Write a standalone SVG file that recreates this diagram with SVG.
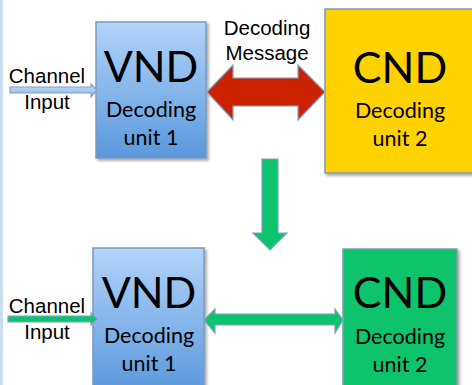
<svg xmlns="http://www.w3.org/2000/svg" width="472" height="385" viewBox="0 0 472 385">
<defs>
<linearGradient id="blue" x1="0" y1="0" x2="0" y2="1">
<stop offset="0" stop-color="#b2d4fa"/>
<stop offset="1" stop-color="#5a98dc"/>
</linearGradient>
<linearGradient id="blueArrow" x1="0" y1="0" x2="0" y2="1">
<stop offset="0" stop-color="#c6dcf6"/>
<stop offset="1" stop-color="#8fb6e6"/>
</linearGradient>
<filter id="sh" x="-10%" y="-10%" width="130%" height="130%">
<feDropShadow dx="2" dy="2" stdDeviation="1.5" flood-color="#000" flood-opacity="0.35"/>
</filter>
</defs>
<style>
.box{stroke:#7f99b8;stroke-width:1.5;filter:url(#sh)}
.big{font-family:Lato,"Liberation Sans",sans-serif;font-size:43px;fill:#000;text-anchor:middle}
.sub{font-family:Lato,"Liberation Sans",sans-serif;font-size:21.5px;fill:#000;text-anchor:middle}
.lbl{font-family:"Liberation Sans",Arial,sans-serif;font-size:20.5px;fill:#000;text-anchor:middle}
.arr{stroke:#7f9fc8;stroke-width:1.2;stroke-linejoin:miter}
</style>
<rect x="0" y="0" width="472" height="385" fill="#fff"/>
<rect x="0" y="0" width="3" height="385" fill="#c9dcf0"/>

<g id="vnd1">
<rect class="box" x="96" y="22" width="110" height="136" fill="url(#blue)"/>
<text class="big" x="151" y="82">VND</text>
<text class="sub" x="151" y="117">Decoding</text>
<text class="sub" x="151" y="145">unit 1</text>
</g>

<g id="cnd1">
<rect class="box" x="325" y="9" width="152" height="164" fill="#ffd200"/>
<text class="big" x="400" y="83">CND</text>
<text class="sub" x="400" y="118">Decoding</text>
<text class="sub" x="400" y="146">unit 2</text>
</g>

<g id="vnd2">
<rect class="box" x="93" y="248" width="111" height="145" fill="url(#blue)"/>
<text class="big" x="149" y="308">VND</text>
<text class="sub" x="149" y="343">Decoding</text>
<text class="sub" x="149" y="371">unit 1</text>
</g>

<g id="cnd2">
<rect class="box" x="343" y="249" width="114" height="144" fill="#0cc46c"/>
<text class="big" x="400" y="308">CND</text>
<text class="sub" x="400" y="344">Decoding</text>
<text class="sub" x="400" y="372">unit 2</text>
</g>

<g id="labels">
<text class="lbl" x="47" y="83">Channel</text>
<text class="lbl" x="47" y="109">Input</text>
<text class="lbl" x="267" y="35">Decoding</text>
<text class="lbl" x="267" y="60">Message</text>
<text class="lbl" x="47" y="313">Channel</text>
<text class="lbl" x="47" y="339">Input</text>
</g>

<g id="connectors">
<polygon class="arr" fill="url(#blueArrow)" points="10,87 91,87 91,84 97,90 91,97 91,93 10,93"/>
<polygon class="arr" fill="#cc2200" points="207,92 233,65 233,78 298,78 298,65 325,92 298,120 298,106 233,106 233,120"/>
<polygon class="arr" fill="#0cc46c" points="262,159 278,159 278,233 287,233 270,250 253,233 262,233"/>
<polygon class="arr" fill="#0cc46c" points="8,316 91,316 91,313 97,319 91,325 91,322 8,322"/>
<polygon class="arr" fill="#0cc46c" points="204,320 215,309 215,314 335,314 335,309 343,320 335,333 335,325 215,325 215,333"/>
</g>
</svg>
